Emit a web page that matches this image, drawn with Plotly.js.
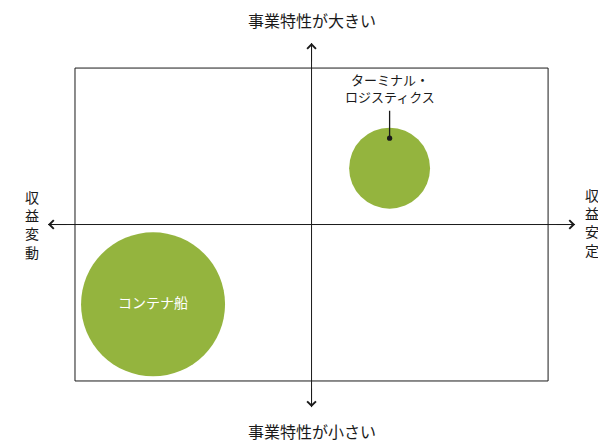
<!DOCTYPE html>
<html>
<head>
<meta charset="utf-8">
<script src="https://cdn.plot.ly/plotly-3.0.1.min.js"></script>
<style>
  html, body { margin: 0; padding: 0; background: #fff; }
  #chart { width: 598px; height: 442px; }
</style>
</head>
<body>
<div id="chart"></div>
<script>
// bubble data: x = 収益安定度 (-1 変動 .. +1 安定), y = 事業特性 (-1 小 .. +1 大)
var segments = ['コンテナ船', 'ターミナル・<br>ロジスティクス'];
var stability = [-0.67, 0.33];
var characteristic = [-0.51, 0.36];
var bubbleValue = [100, 31.6];

var axisTop = '事業特性が大きい';
var axisBottom = '事業特性が小さい';
var axisLeft = '収益変動';
var axisRight = '収益安定';

var green = '#94b43e';
var ink = '#1a1a1a';
var font = 'Noto Sans CJK JP, Noto Sans, sans-serif';

var bubbles = {
  x: stability,
  y: characteristic,
  mode: 'markers+text',
  type: 'scatter',
  text: [segments[0], ''],
  textposition: 'middle center',
  textfont: { family: font, size: 14, color: '#ffffff' },
  marker: {
    size: bubbleValue,
    sizemode: 'area',
    sizeref: 2 * 100 / (144 * 144),
    color: green,
    line: { width: 0 },
    opacity: 1
  },
  hoverinfo: 'none',
  cliponaxis: false
};

var annotations = [];

// axis arrow heads
var tips = [[-1.114, 0, 20, 0], [1.114, 0, -20, 0], [0, 1.16, 0, 20], [0, -1.167, 0, -20]];
tips.forEach(function (t) {
  annotations.push({
    x: t[0], y: t[1], ax: t[2], ay: t[3],
    xref: 'x', yref: 'y', text: '', showarrow: true,
    arrowhead: 4, arrowsize: 1.7, arrowwidth: 1, arrowcolor: ink
  });
});

// top / bottom labels
annotations.push({
  x: 0, y: 1.307, xref: 'x', yref: 'y', text: axisTop, showarrow: false,
  font: { family: font, size: 16, color: ink }
});
annotations.push({
  x: 0, y: -1.319, xref: 'x', yref: 'y', text: axisBottom, showarrow: false,
  font: { family: font, size: 16, color: ink }
});

// vertical side labels, stacked one char per line
annotations.push({
  x: -1.182, y: 0, yshift: 0, xref: 'x', yref: 'y',
  text: axisLeft.split('').join('<br>'), showarrow: false,
  font: { family: font, size: 14, color: ink }
});
annotations.push({
  x: 1.185, y: 0, yshift: 2, xref: 'x', yref: 'y',
  text: axisRight.split('').join('<br>'), showarrow: false,
  font: { family: font, size: 14, color: ink }
});

// callout for the small bubble
annotations.push({
  x: stability[1], y: characteristic[1], yshift: 30,
  xref: 'x', yref: 'y', text: segments[1], showarrow: true,
  ax: 0, ay: -50, arrowhead: 6, arrowsize: 1, arrowwidth: 1.3, arrowcolor: ink,
  startstandoff: 3,
  font: { family: font, size: 13, color: ink }
});

var layout = {
  width: 598,
  height: 442,
  margin: { l: 0, r: 0, t: 0, b: 0 },
  paper_bgcolor: '#ffffff',
  plot_bgcolor: '#ffffff',
  showlegend: false,
  xaxis: { range: [-1.317, 1.211], visible: false, fixedrange: true },
  yaxis: { range: [-1.390, 1.435], visible: false, fixedrange: true },
  shapes: [
    { type: 'rect', xref: 'x', yref: 'y', x0: -1, x1: 1, y0: -1, y1: 1,
      line: { color: ink, width: 1 }, layer: 'below' },
    { type: 'line', xref: 'x', yref: 'y', x0: -1.114, x1: 1.114, y0: 0, y1: 0,
      line: { color: ink, width: 1 }, layer: 'above' },
    { type: 'line', xref: 'x', yref: 'y', x0: 0, x1: 0, y0: -1.167, y1: 1.16,
      line: { color: ink, width: 1 }, layer: 'above' }
  ],
  annotations: annotations
};

Plotly.newPlot('chart', [bubbles], layout, { staticPlot: true });
</script>
</body>
</html>
